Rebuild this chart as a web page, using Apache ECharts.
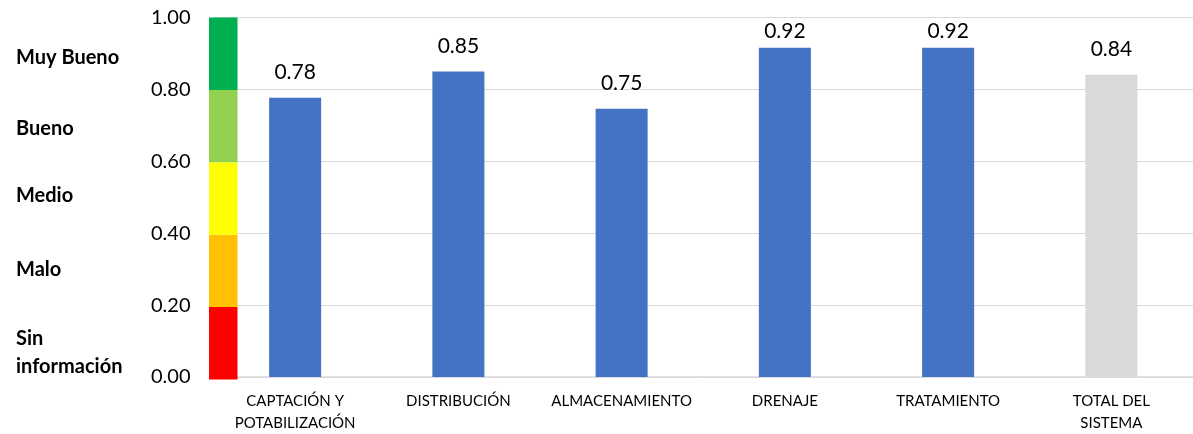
<!DOCTYPE html>
<html>
<head>
<meta charset="utf-8">
<script src="https://cdn.jsdelivr.net/npm/echarts@6/dist/echarts.min.js"></script>
<style>
html,body{margin:0;padding:0;background:#fff;}
#chart{width:1193px;height:434px;}
</style>
</head>
<body>
<div id="chart"></div>
<script>
// ---- data ----
const categories = ['CAPTACIÓN Y\nPOTABILIZACIÓN', 'DISTRIBUCIÓN', 'ALMACENAMIENTO', 'DRENAJE', 'TRATAMIENTO', 'TOTAL DEL\nSISTEMA'];
const values = [0.777, 0.85, 0.746, 0.916, 0.916, 0.841];
const yTicks = [0, 0.2, 0.4, 0.6, 0.8, 1.0];
const bandLevels = [0.2, 0.2, 0.2, 0.2, 0.2];
const bandNames = ['Sin información', 'Malo', 'Medio', 'Bueno', 'Muy Bueno'];
const bandLabelCenters = [0.075, 0.31, 0.515, 0.70, 0.894];

// ---- styles ----
const bandColors = ['#ff0000', '#ffc000', '#ffff00', '#92d050', '#00b050'];
const barColor = '#4472c4';
const totalColor = '#d9d9d9';
const FONT = 'Lato, "Noto Sans", sans-serif';

const GRID_TOP = 17.5, GRID_H = 362;
const LABEL_FS = 21, LABEL_GAP = 15;

const chart = echarts.init(document.getElementById('chart'), null, {renderer: 'canvas'});

const barData = values.map((v, i) => {
  const barTop = GRID_TOP + (1 - v) * GRID_H;
  let dist = LABEL_GAP;
  const labelTop = barTop - dist - LABEL_FS;
  if (labelTop < GRID_TOP + 3) dist = Math.max(4, barTop - LABEL_FS - (GRID_TOP + 3));
  return {
    value: v,
    itemStyle: {color: i === values.length - 1 ? totalColor : barColor},
    label: {distance: dist}
  };
});

const bandSeries = bandLevels.map((v, i) => ({
  type: 'bar',
  name: bandNames[i],
  xAxisIndex: 1,
  yAxisIndex: 1,
  stack: 'band',
  barWidth: '100%',
  data: [v],
  itemStyle: {color: bandColors[i]},
  silent: true
}));

const graphics = bandNames.map((n, i) => ({
  type: 'text',
  left: 16,
  top: GRID_TOP + (1 - bandLabelCenters[i]) * GRID_H - (n === 'Sin información' ? 28 : 12),
  style: {
    text: n === 'Sin información' ? 'Sin\ninformación' : n,
    font: 'bold 20px ' + FONT,
    fill: '#000',
    lineHeight: 28
  }
}));

chart.setOption({
  animation: false,
  backgroundColor: '#fff',
  textStyle: {fontFamily: FONT},
  grid: [
    {left: 213.5, top: GRID_TOP, width: 990, height: GRID_H, containLabel: false},
    {left: 209, top: GRID_TOP, width: 28.5, height: GRID_H, containLabel: false}
  ],
  xAxis: [
    {
      type: 'category', gridIndex: 0, data: categories,
      axisLine: {lineStyle: {color: '#d9d9d9', width: 1.5}},
      axisTick: {show: false},
      axisLabel: {interval: 0, color: '#000', fontSize: 15, lineHeight: 22, margin: 13, fontFamily: FONT}
    },
    {type: 'category', gridIndex: 1, data: [''], show: false}
  ],
  yAxis: [
    {
      type: 'value', gridIndex: 0, min: 0, max: 1, interval: 0.2,
      axisLine: {show: false}, axisTick: {show: false},
      splitLine: {lineStyle: {color: '#d9d9d9', width: 1}},
      axisLabel: {color: '#000', fontSize: 20, margin: 23, fontFamily: FONT,
        formatter: v => v.toFixed(2)}
    },
    {type: 'value', gridIndex: 1, min: 0, max: 1, show: false}
  ],
  series: [
    ...bandSeries,
    {
      type: 'bar', xAxisIndex: 0, yAxisIndex: 0,
      barWidth: 52,
      data: barData,
      label: {show: true, position: 'top', color: '#000', fontSize: LABEL_FS, fontFamily: FONT,
        formatter: p => p.value.toFixed(2)},
      z: 3
    }
  ],
  graphic: graphics
});
</script>
</body>
</html>
